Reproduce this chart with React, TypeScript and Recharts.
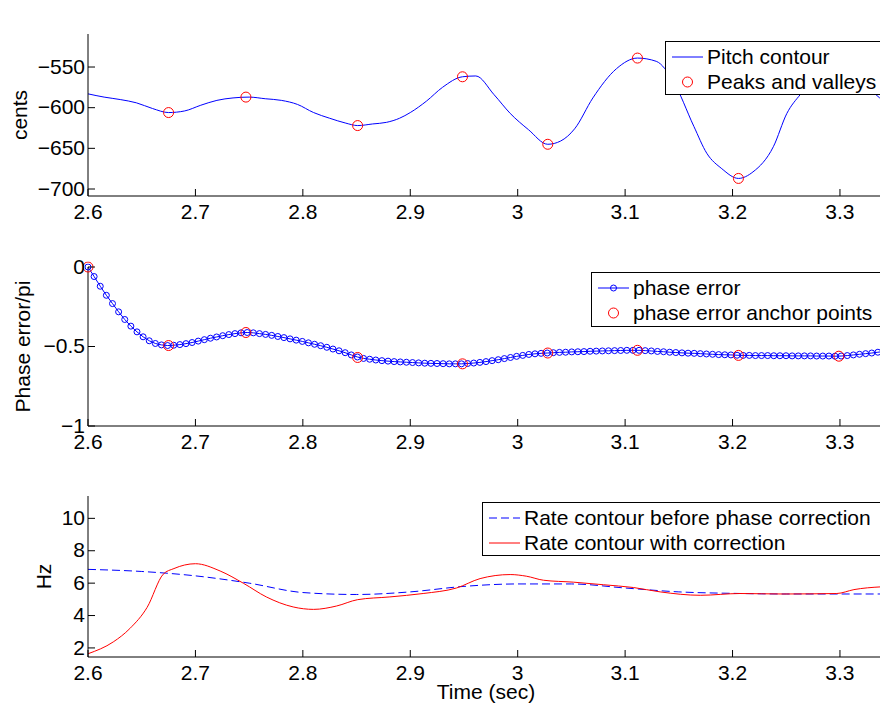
import React from 'react';
import { ComposedChart, Line, XAxis, YAxis, Legend } from 'recharts';

const FONT = '"Liberation Sans", Arial, Helvetica, sans-serif';
const FS = 21;
const AX = '#000';
const TICK_LEN = 7;
const BLUE = '#0000ff';
const RED = '#ff0000';

// shared time axis
const timeTicks = [2.6, 2.7, 2.8, 2.9, 3, 3.1, 3.2, 3.3];
const timeDomain = [2.6, 3.341];

// --- Phase correction
const pitchTimes = [2.6, 2.615, 2.63, 2.645, 2.66, 2.675, 2.69, 2.705, 2.72, 2.735, 2.75, 2.765, 2.78, 2.795, 2.81, 2.825, 2.84, 2.851, 2.865, 2.878, 2.89, 2.9, 2.915, 2.93, 2.9486, 2.961, 2.978, 2.993, 3.01, 3.028, 3.04, 3.053, 3.07, 3.092, 3.1115, 3.129, 3.145, 3.164, 3.176, 3.19, 3.2055, 3.219, 3.238, 3.2506, 3.263, 3.28, 3.3, 3.32, 3.337, 3.35];
const pitchCents = [-583, -587, -590, -594, -601, -606, -604, -597, -591, -588, -587, -589, -591, -596, -606, -613, -619, -622, -620, -618, -613, -606, -592, -575, -562, -561, -584, -607, -627, -645, -641, -626, -588, -552, -539, -543, -568, -623, -656, -675, -687, -679, -648, -607, -584, -562, -555, -568, -588, -600];
const peakTimes = [2.675, 2.747, 2.851, 2.9486, 3.028, 3.1115, 3.2055, 3.3];
const peakCents = [-606, -587, -622, -562, -645, -539, -687, -555];
const centsTicks = [-700, -650, -600, -550];
const centsDomain = [-708.6, -509.4];

// --- Phase error (one value per analysis frame)
const frameStart = 2.6;
const frameHop = 0.0057;
const phaseErr = [
  0, -0.06, -0.121, -0.178, -0.23, -0.282, -0.33, -0.372, -0.408, -0.439,
  -0.464, -0.481, -0.49, -0.494, -0.492, -0.488, -0.482, -0.475, -0.466, -0.457,
  -0.448, -0.44, -0.432, -0.425, -0.419, -0.414, -0.412, -0.414, -0.419, -0.424,
  -0.43, -0.437, -0.444, -0.452, -0.46, -0.468, -0.477, -0.486, -0.495, -0.505,
  -0.516, -0.527, -0.539, -0.553, -0.566, -0.575, -0.58, -0.585, -0.589, -0.592,
  -0.595, -0.597, -0.599, -0.601, -0.603, -0.605, -0.606, -0.607, -0.608, -0.609,
  -0.609, -0.609, -0.607, -0.604, -0.6, -0.595, -0.589, -0.583, -0.576, -0.569,
  -0.562, -0.556, -0.55, -0.546, -0.543, -0.541, -0.539, -0.537, -0.536, -0.534,
  -0.533, -0.532, -0.53, -0.529, -0.528, -0.527, -0.526, -0.525, -0.524, -0.524,
  -0.524, -0.526, -0.528, -0.531, -0.533, -0.536, -0.538, -0.54, -0.542, -0.543,
  -0.545, -0.547, -0.549, -0.551, -0.552, -0.553, -0.555, -0.556, -0.556, -0.557,
  -0.557, -0.557, -0.558, -0.558, -0.558, -0.559, -0.559, -0.559, -0.559, -0.56,
  -0.56, -0.56, -0.561, -0.56, -0.557, -0.553, -0.549, -0.545, -0.541, -0.536, -0.531,
];
const anchorTimes = [2.6, 2.675, 2.747, 2.851, 2.9486, 3.028, 3.1115, 3.2055, 3.299];
const anchorErr = [0, -0.494, -0.412, -0.569, -0.609, -0.541, -0.524, -0.556, -0.561];
const errTicks = [-1, -0.5, 0];
const errDomain = [-1, 0];

// --- Rate contours
const beforeTimes = [2.6, 2.65, 2.7, 2.75, 2.8, 2.85, 2.9, 2.95, 3.0, 3.05, 3.1, 3.15, 3.2, 3.25, 3.3, 3.35];
const rateBefore = [6.85, 6.72, 6.45, 6.0, 5.42, 5.3, 5.46, 5.8, 5.95, 5.95, 5.7, 5.46, 5.37, 5.33, 5.33, 5.33];
const corrTimes = [2.6, 2.6235, 2.639, 2.655, 2.67, 2.68, 2.7, 2.723, 2.745, 2.766, 2.791, 2.81, 2.8315, 2.851, 2.881, 2.912, 2.943, 2.965, 2.993, 3.008, 3.024, 3.052, 3.08, 3.1077, 3.1326, 3.17, 3.207, 3.247, 3.297, 3.313, 3.338, 3.35];
const rateCorr = [1.64, 2.37, 3.2, 4.5, 6.55, 6.9, 7.2, 6.75, 5.98, 5.15, 4.53, 4.38, 4.59, 4.98, 5.15, 5.36, 5.7, 6.28, 6.53, 6.43, 6.18, 6.06, 5.9, 5.73, 5.46, 5.25, 5.36, 5.33, 5.36, 5.6, 5.77, 5.8];
const hzTicks = [2, 4, 6, 8, 10];
const hzDomain = [1.44, 11.38];

const rows = (ts: number[], vs: number[]) => ts.map((t, i) => ({ t, v: vs[i] }));
const pitchData = rows(pitchTimes, pitchCents);
const peakData = rows(peakTimes, peakCents);
const errData = phaseErr.map((v, i) => ({ t: +(frameStart + i * frameHop).toFixed(4), v }));
const anchorData = rows(anchorTimes, anchorErr);
const beforeData = rows(beforeTimes, rateBefore);
const corrData = rows(corrTimes, rateCorr);

const CW = 900;
const txt = { fontFamily: FONT, fontSize: FS, fill: '#000' };
const fmt = (v: number) => (v < 0 ? '\u2212' + String(-v) : String(v));

function BottomTick({ x, y, payload }: any) {
  return (
    <g>
      <line x1={x} x2={x} y1={y} y2={y - TICK_LEN} stroke={AX} />
      <text x={x} y={y + 8} dy="0.72em" textAnchor="middle" {...txt}>{fmt(payload.value)}</text>
    </g>
  );
}
function TopTick({ x, y }: any) {
  return <line x1={x} x2={x} y1={y} y2={y + TICK_LEN} stroke={AX} />;
}
function LeftTick({ x, y, payload }: any) {
  return (
    <g>
      <line x1={x} x2={x + TICK_LEN} y1={y} y2={y} stroke={AX} />
      <text x={x - 3} y={y} dy="0.32em" textAnchor="end" {...txt}>{fmt(payload.value)}</text>
    </g>
  );
}
function RightTick({ x, y }: any) {
  return <line x1={x} x2={x - TICK_LEN} y1={y} y2={y} stroke={AX} />;
}

const titleLabel = (text: string) => (p: any) => {
  const vb = p.viewBox;
  return <text x={vb.x + vb.width / 2} y={vb.y - 16} textAnchor="middle" {...txt}>{text}</text>;
};
const yLabel = (text: string, baseX: number) => (p: any) => {
  const vb = p.viewBox;
  const cy = vb.y + vb.height / 2;
  return <text x={baseX} y={cy} transform={`rotate(-90 ${baseX} ${cy})`} textAnchor="middle" {...txt}>{text}</text>;
};
const xLabel = (text: string) => (p: any) => {
  const vb = p.viewBox;
  return <text x={vb.x + vb.width / 2} y={vb.y + 42} textAnchor="middle" {...txt}>{text}</text>;
};

type Row = { label: string; kind: 'line' | 'circle' | 'lineCircle' | 'dash' | 'red' };

function Sample({ kind }: { kind: Row['kind'] }) {
  return (
    <svg width={31} height={14} style={{ flex: 'none' }}>
      {kind === 'line' && <line x1={0} x2={31} y1={7} y2={7} stroke={BLUE} />}
      {kind === 'dash' && <line x1={0} x2={31} y1={7} y2={7} stroke={BLUE} strokeDasharray="8 4" />}
      {kind === 'red' && <line x1={0} x2={31} y1={7} y2={7} stroke={RED} />}
      {kind === 'lineCircle' && (
        <g>
          <line x1={0} x2={31} y1={7} y2={7} stroke={BLUE} />
          <circle cx={15.5} cy={7} r={3} stroke={BLUE} fill="none" />
        </g>
      )}
      {kind === 'circle' && <circle cx={15.5} cy={7} r={5} stroke={RED} fill="none" />}
    </svg>
  );
}

function LegendBox({ items }: { items: Row[] }) {
  return (
    <div style={{ background: '#fff', border: '1px solid #000', boxSizing: 'border-box', width: '100%', height: '100%', padding: '2px 0 0 6px', fontFamily: FONT, fontSize: FS, color: '#000' }}>
      {items.map((r) => (
        <div key={r.label} style={{ display: 'flex', alignItems: 'center', height: 25, lineHeight: '25px', whiteSpace: 'nowrap' }}>
          <Sample kind={r.kind} />
          <span style={{ marginLeft: 4 }}>{r.label}</span>
        </div>
      ))}
    </div>
  );
}

function Axes({ yDomain, yTicks, title, yTitle, yTitleX, xTitle, xHeight }: any) {
  return [
    <XAxis key="xb" xAxisId="b" type="number" dataKey="t" domain={timeDomain} ticks={timeTicks} interval={0} allowDataOverflow
      tick={BottomTick} tickLine={false} tickSize={0} tickMargin={0} height={xHeight} axisLine={{ stroke: AX }}
      label={xTitle ? { content: xLabel(xTitle) } : undefined} />,
    <XAxis key="xt" xAxisId="t" orientation="top" type="number" dataKey="t" domain={timeDomain} ticks={timeTicks} interval={0} allowDataOverflow
      tick={TopTick} tickLine={false} tickSize={0} tickMargin={0} height={0} axisLine={{ stroke: AX }}
      label={{ content: titleLabel(title) }} />,
    <YAxis key="yl" yAxisId="l" type="number" domain={yDomain} ticks={yTicks} interval={0} allowDataOverflow
      tick={LeftTick} tickLine={false} tickSize={0} tickMargin={0} width={88} axisLine={{ stroke: AX }}
      label={{ content: yLabel(yTitle, yTitleX) }} />,
    <YAxis key="yr" yAxisId="r" orientation="right" type="number" domain={yDomain} ticks={yTicks} interval={0} allowDataOverflow
      tick={RightTick} tickLine={false} tickSize={0} tickMargin={0} width={0} axisLine={{ stroke: AX }} />,
  ];
}

const legendProps = { layout: 'vertical' as const, align: 'center' as const, verticalAlign: 'middle' as const };

export default function App() {
  return (
    <div style={{ position: 'absolute', left: 0, top: 0, width: 880, height: 707, overflow: 'hidden', background: '#fff' }}>
      <div style={{ position: 'absolute', left: 0, top: 0 }}>
        <ComposedChart width={CW} height={226} margin={{ top: 34, right: 16, bottom: 0, left: 0 }}>
          {Axes({ yDomain: centsDomain, yTicks: centsTicks, title: 'Phase correction', yTitle: 'cents', yTitleX: 27, xHeight: 30 })}
          <Line xAxisId="b" yAxisId="l" data={pitchData} dataKey="v" name="Pitch contour" type="monotone" stroke={BLUE} strokeWidth={1} dot={false} activeDot={false} isAnimationActive={false} />
          <Line xAxisId="b" yAxisId="l" data={peakData} dataKey="v" name="Peaks and valleys" stroke="none" dot={{ r: 5, stroke: RED, fill: 'none', strokeWidth: 1, clipDot: false }} activeDot={false} isAnimationActive={false} />
          <Legend {...legendProps} wrapperStyle={{ left: 665, top: 41, width: 218, height: 54 }}
            content={() => <LegendBox items={[{ label: 'Pitch contour', kind: 'line' }, { label: 'Peaks and valleys', kind: 'circle' }]} />} />
        </ComposedChart>
      </div>
      <div style={{ position: 'absolute', left: 0, top: 230 }}>
        <ComposedChart width={CW} height={226} margin={{ top: 37, right: 16, bottom: 0, left: 0 }}>
          {Axes({ yDomain: errDomain, yTicks: errTicks, title: 'Phase error', yTitle: 'Phase error/pi', yTitleX: 30, xHeight: 30 })}
          <Line xAxisId="b" yAxisId="l" data={errData} dataKey="v" name="phase error" type="linear" stroke={BLUE} strokeWidth={1} dot={{ r: 3, stroke: BLUE, fill: 'none', strokeWidth: 1, clipDot: false }} activeDot={false} isAnimationActive={false} />
          <Line xAxisId="b" yAxisId="l" data={anchorData} dataKey="v" name="phase error anchor points" stroke="none" dot={{ r: 5, stroke: RED, fill: 'none', strokeWidth: 1, clipDot: false }} activeDot={false} isAnimationActive={false} />
          <Legend {...legendProps} wrapperStyle={{ left: 591, top: 42, width: 292, height: 55 }}
            content={() => <LegendBox items={[{ label: 'phase error', kind: 'lineCircle' }, { label: 'phase error anchor points', kind: 'circle' }]} />} />
        </ComposedChart>
      </div>
      <div style={{ position: 'absolute', left: 0, top: 460 }}>
        <ComposedChart width={CW} height={247} margin={{ top: 36, right: 16, bottom: 0, left: 0 }}>
          {Axes({ yDomain: hzDomain, yTicks: hzTicks, title: 'Rate contours', yTitle: 'Hz', yTitleX: 51, xTitle: 'Time (sec)', xHeight: 50 })}
          <Line xAxisId="b" yAxisId="l" data={beforeData} dataKey="v" name="Rate contour before phase correction" type="monotone" stroke={BLUE} strokeWidth={1} strokeDasharray="8 4" dot={false} activeDot={false} isAnimationActive={false} />
          <Line xAxisId="b" yAxisId="l" data={corrData} dataKey="v" name="Rate contour with correction" type="monotone" stroke={RED} strokeWidth={1} dot={false} activeDot={false} isAnimationActive={false} />
          <Legend {...legendProps} wrapperStyle={{ left: 482, top: 42, width: 401, height: 54 }}
            content={() => <LegendBox items={[{ label: 'Rate contour before phase correction', kind: 'dash' }, { label: 'Rate contour with correction', kind: 'red' }]} />} />
        </ComposedChart>
      </div>
    </div>
  );
}
